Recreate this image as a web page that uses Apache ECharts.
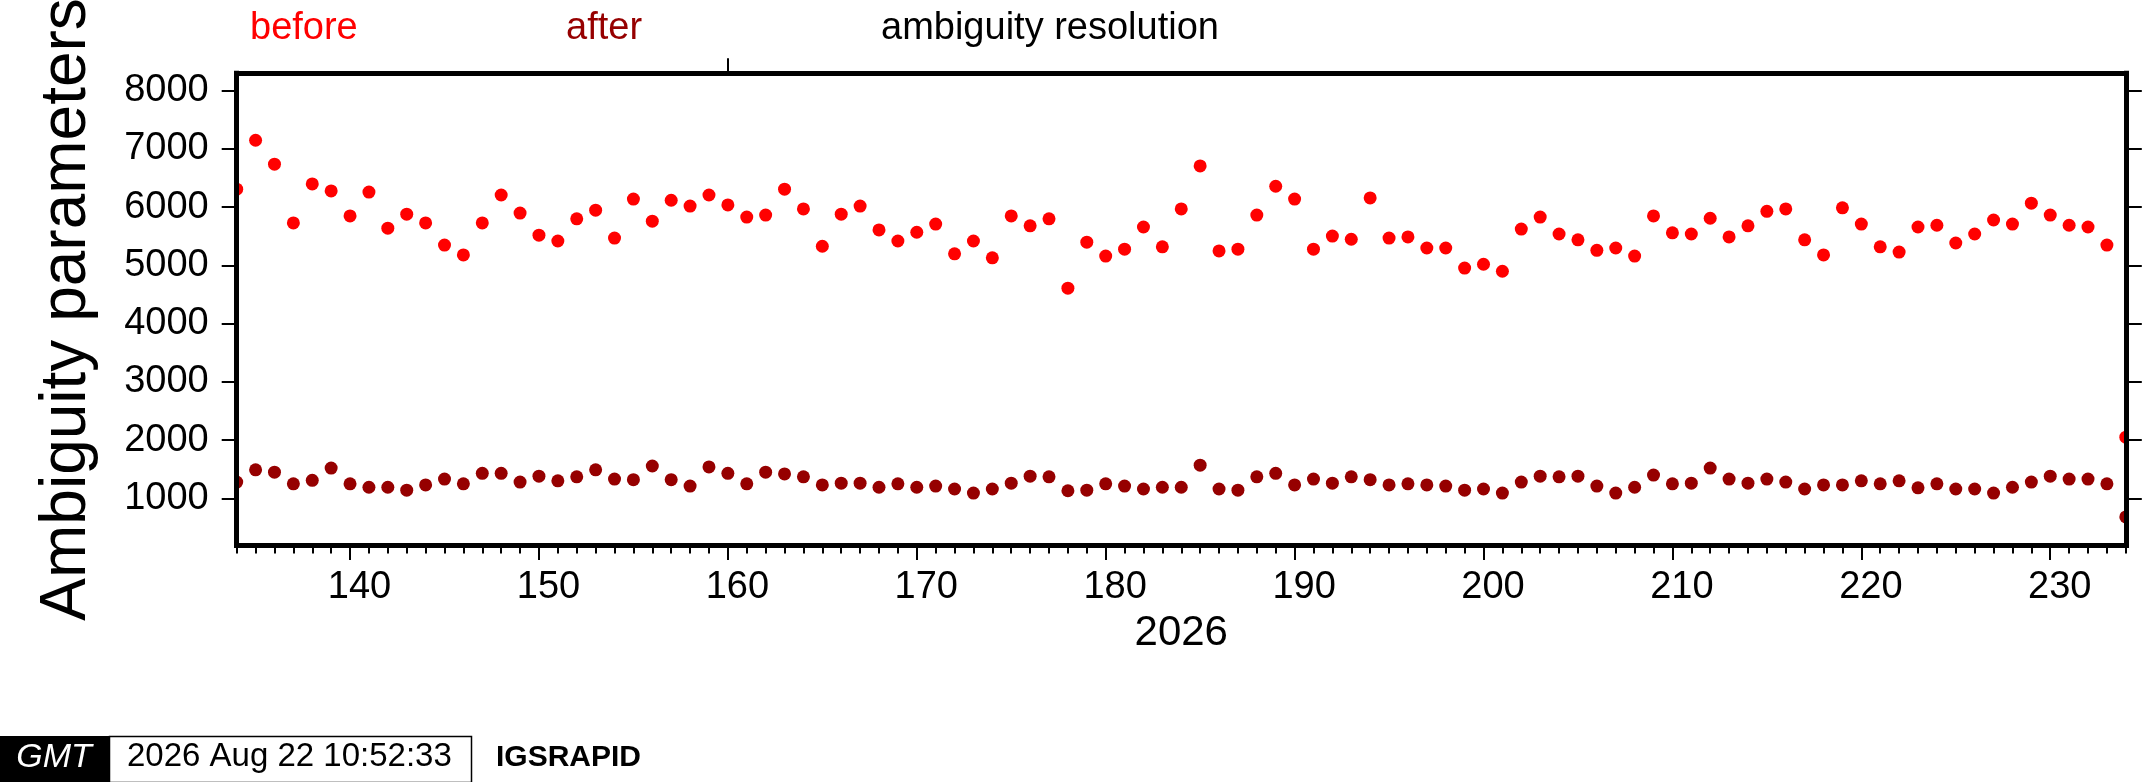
<!DOCTYPE html>
<html><head><meta charset="utf-8">
<script src="https://cdn.jsdelivr.net/npm/echarts@6/dist/echarts.min.js"></script>
<style>html,body{margin:0;padding:0;background:#fff}#c{width:2142px;height:782px}</style>
</head><body><div id="c"></div>
<script>
// Day of year 2026
const days = [134,135,136,137,138,139,140,141,142,143,144,145,146,147,148,149,150,151,152,153,154,155,156,157,158,159,160,161,162,163,164,165,166,167,168,169,170,171,172,173,174,175,176,177,178,179,180,181,182,183,184,185,186,187,188,189,190,191,192,193,194,195,196,197,198,199,200,201,202,203,204,205,206,207,208,209,210,211,212,213,214,215,216,217,218,219,220,221,222,223,224,225,226,227,228,229,230,231,232,233,234];
// Ambiguity parameters before resolution
const before = [6310,7150,6740,5730,6400,6280,5850,6260,5640,5880,5730,5350,5180,5730,6210,5900,5520,5420,5800,5950,5470,6140,5760,6120,6020,6210,6040,5830,5865,6310,5970,5330,5880,6020,5610,5420,5570,5710,5200,5420,5130,5850,5680,5800,4610,5400,5160,5280,5660,5320,5970,6710,5250,5280,5865,6360,6140,5280,5505,5450,6160,5470,5490,5300,5300,4955,5020,4900,5625,5830,5540,5440,5260,5300,5160,5850,5560,5540,5810,5490,5680,5930,5970,5440,5180,5990,5710,5320,5230,5660,5690,5385,5540,5780,5710,6070,5865,5690,5660,5350,2050];
// Ambiguity parameters after resolution
const after = [1280,1490,1450,1250,1310,1520,1250,1190,1190,1140,1230,1330,1250,1430,1430,1280,1380,1300,1370,1490,1330,1320,1555,1320,1210,1540,1430,1250,1450,1420,1370,1230,1260,1260,1190,1250,1190,1210,1160,1090,1160,1260,1380,1370,1130,1140,1250,1210,1160,1190,1190,1570,1160,1140,1370,1430,1230,1330,1260,1370,1320,1230,1250,1230,1210,1140,1160,1090,1280,1380,1370,1380,1210,1090,1190,1400,1250,1260,1520,1330,1260,1330,1280,1160,1230,1230,1300,1250,1300,1180,1250,1160,1160,1090,1190,1280,1380,1330,1330,1250,680];
const xTickLabels = [140,150,160,170,180,190,200,210,220,230];
const yTickLabels = [1000,2000,3000,4000,5000,6000,7000,8000];
const topTick = [160];
const legendTexts = ['before','after','ambiguity resolution'];
const seriesColors = ['#ff0000','#960000','#000000'];

const FONT = '"Liberation Sans", Arial, Helvetica, sans-serif';
const chart = echarts.init(document.getElementById('c'), null, {renderer:'canvas'});

function dotSeries(name, vals, color) {
  return {
    type: 'custom', name: name, clip: true, z: 2,
    xAxisIndex: 0, yAxisIndex: 0,
    data: days.map((d, i) => [d, vals[i]]),
    encode: {x: 0, y: 1},
    renderItem: function (params, api) {
      const p = api.coord([api.value(0), api.value(1)]);
      return {type: 'circle', shape: {cx: p[0], cy: p[1], r: 6.5}, style: {fill: color}};
    }
  };
}

const frameLine = {show: true, onZero: false, lineStyle: {color: '#000', width: 5, cap: 'square'}};
const tickStyle = {color: '#000', width: 2};
const plain = v => String(v);

chart.setOption({
  animation: false,
  backgroundColor: '#fff',
  grid: {left: 236.7, right: 16.2, top: 73.3, bottom: 236.5, containLabel: false, outerBoundsMode: 'none'},
  xAxis: [
    {type: 'value', position: 'bottom', min: 134, max: 234, interval: 1, z: 5,
     axisLine: frameLine,
     axisTick: {show: true, length: 8, lineStyle: tickStyle},
     axisLabel: {show: false}, splitLine: {show: false}},
    {type: 'value', position: 'bottom', min: 134, max: 234, z: 5,
     axisLine: {show: false, onZero: false},
     axisTick: {show: true, length: 14.5, customValues: xTickLabels, lineStyle: tickStyle},
     axisLabel: {show: true, customValues: xTickLabels, formatter: plain, fontSize: 38, fontFamily: FONT, color: '#000', margin: 23, padding: [0, 0, 0, 19]},
     splitLine: {show: false},
     name: '2026', nameLocation: 'middle', nameGap: 67,
     nameTextStyle: {fontSize: 42, fontFamily: FONT, color: '#000'}},
    {type: 'value', position: 'top', min: 134, max: 234, z: 5,
     axisLine: frameLine,
     axisTick: {show: true, length: 15, customValues: topTick, lineStyle: tickStyle},
     axisLabel: {show: false}, splitLine: {show: false}}
  ],
  yAxis: [
    {type: 'value', position: 'left', min: 190, max: 8300, z: 5,
     axisLine: frameLine,
     axisTick: {show: true, length: 15, customValues: yTickLabels, lineStyle: tickStyle},
     axisLabel: {show: true, customValues: yTickLabels, formatter: plain, fontSize: 38, fontFamily: FONT, color: '#000', margin: 28},
     splitLine: {show: false},
     name: 'Ambiguity parameters', nameLocation: 'middle', nameGap: 137, nameRotate: 90,
     nameTextStyle: {fontSize: 64, fontFamily: FONT, color: '#000'}},
    {type: 'value', position: 'right', min: 190, max: 8300, z: 5,
     axisLine: frameLine,
     axisTick: {show: true, length: 16, customValues: yTickLabels, lineStyle: tickStyle},
     axisLabel: {show: false}, splitLine: {show: false}}
  ],
  series: [
    dotSeries(legendTexts[0], before, seriesColors[0]),
    dotSeries(legendTexts[1], after, seriesColors[1])
  ],
  graphic: [
    {type: 'text', x: 250, y: 29, style: {text: legendTexts[0], fill: seriesColors[0], font: '38px ' + FONT, align: 'left', verticalAlign: 'middle'}},
    {type: 'text', x: 566, y: 29, style: {text: legendTexts[1], fill: seriesColors[1], font: '38px ' + FONT, align: 'left', verticalAlign: 'middle'}},
    {type: 'text', x: 881, y: 29, style: {text: legendTexts[2], fill: seriesColors[2], font: '38px ' + FONT, align: 'left', verticalAlign: 'middle'}},
    {type: 'rect', shape: {x: 0, y: 736, width: 109, height: 46}, style: {fill: '#000'}},
    {type: 'text', x: 54, y: 758, style: {text: 'GMT', fill: '#fff', font: 'italic 34px ' + FONT, align: 'center', verticalAlign: 'middle'}},
    {type: 'rect', shape: {x: 109.5, y: 736.5, width: 362, height: 46}, style: {fill: '#fff', stroke: '#000', lineWidth: 1.5}},
    {type: 'text', x: 127, y: 757, style: {text: '2026 Aug 22 10:52:33', fill: '#000', font: '33px ' + FONT, align: 'left', verticalAlign: 'middle'}},
    {type: 'text', x: 496, y: 757.5, style: {text: 'IGSRAPID', fill: '#000', font: 'bold 30px ' + FONT, align: 'left', verticalAlign: 'middle'}}
  ]
});
</script>
</body></html>
